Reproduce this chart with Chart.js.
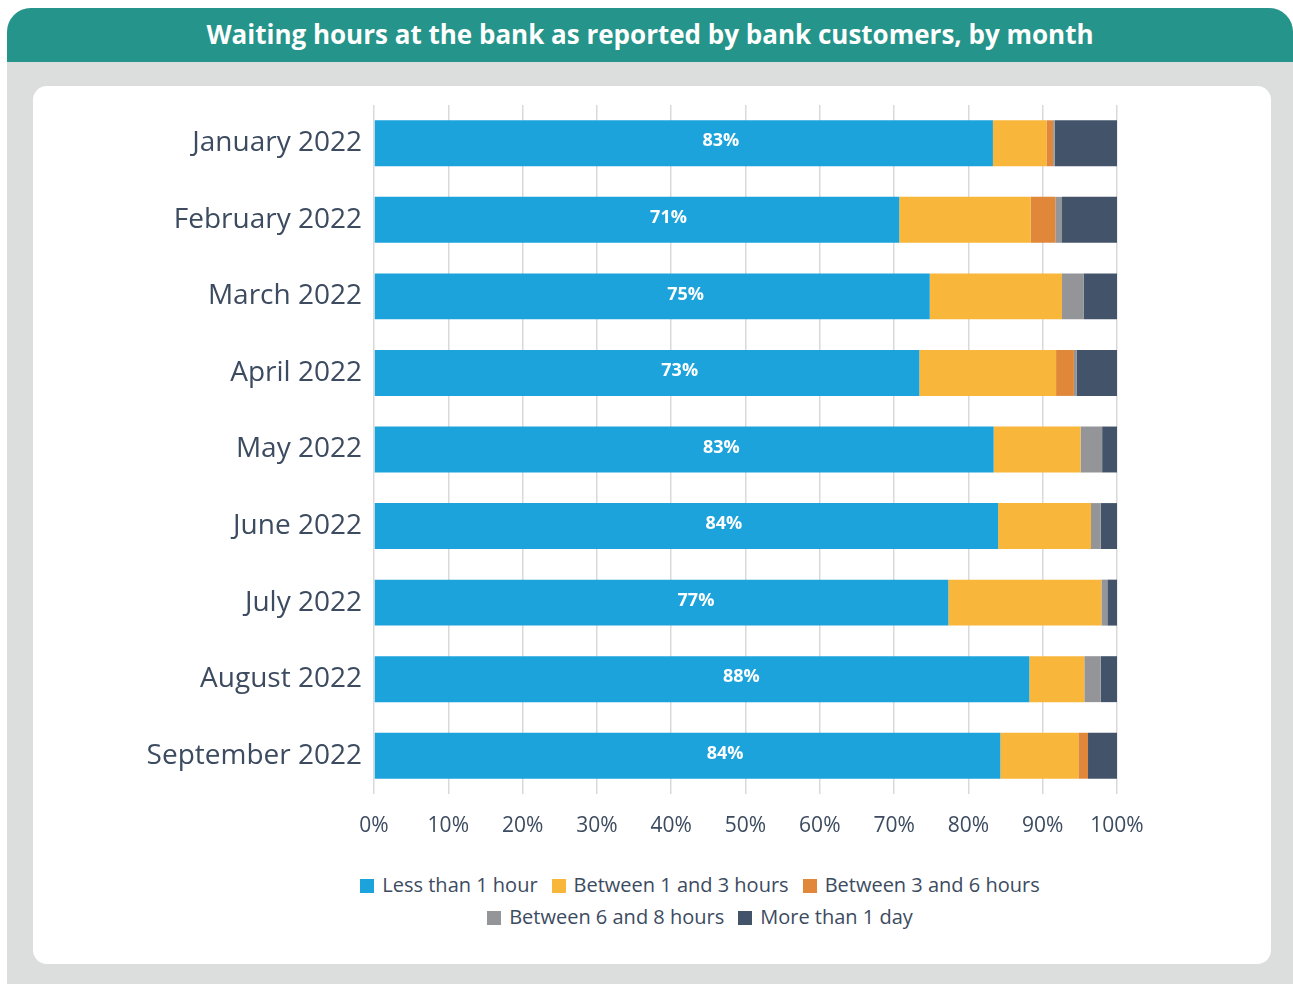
<!DOCTYPE html>
<html>
<head>
<meta charset="utf-8">
<script src="https://cdn.jsdelivr.net/npm/chart.js@4"></script>
<style>
  body { margin: 0; background: #fff; font-family: "Open Sans", sans-serif; }
  .frame { position: absolute; left: 7px; top: 8px; width: 1286px; height: 976px; background: #dcdedd; border-radius: 24px 24px 0 0; overflow: hidden; }
  .head { height: 54px; background: #25948a; color: #fff; font-weight: 700; font-size: 26px; text-align: center; line-height: 52px; }
  .card { position: absolute; left: 26px; top: 78px; width: 1238px; height: 878px; background: #fff; border-radius: 14px; }
  .plot { position: absolute; left: 0; top: 0; width: 1238px; height: 770px; }
  .legend { position: absolute; left: 0; top: 783px; width: 1334px; text-align: center; font-size: 20px; color: #3c4b5f; }
  .legend .row { height: 32px; line-height: 32px; white-space: nowrap; }
  .legend span { display: inline-block; margin: 0 7px; }
  .legend i { display: inline-block; width: 14px; height: 14px; margin-right: 8px; vertical-align: -1px; }
</style>
</head>
<body>
<div class="frame">
  <div class="head">Waiting hours at the bank as reported by bank customers, by month</div>
  <div class="card">
    <div class="plot"><canvas id="waitChart" width="1238" height="770"></canvas></div>
    <div class="legend" id="legend"></div>
  </div>
</div>
<script>
// share of customers per waiting time band, in %
const months = ['January 2022', 'February 2022', 'March 2022', 'April 2022', 'May 2022',
                'June 2022', 'July 2022', 'August 2022', 'September 2022'];
const lessThan1h  = [83.3, 70.7, 74.8, 73.4, 83.4, 84.0, 77.3, 88.2, 84.3];
const from1to3h   = [7.2, 17.7, 17.8, 18.4, 11.7, 12.5, 20.6, 7.4, 10.5];
const from3to6h   = [0.9, 3.3, 0, 2.4, 0, 0, 0, 0, 1.3];
const from6to8h   = [0.2, 0.9, 2.9, 0.4, 2.9, 1.3, 0.8, 2.2, 0];
const moreThan1d  = [8.4, 7.4, 4.5, 5.4, 2.0, 2.2, 1.3, 2.2, 3.9];
const xTicks = [0, 10, 20, 30, 40, 50, 60, 70, 80, 90, 100];

const textColor = '#3c4b5f';

// white percentage inside the first (blue) segment
const barLabels = {
  id: 'barLabels',
  afterDatasetsDraw(chart) {
    const ctx = chart.ctx;
    const meta = chart.getDatasetMeta(0);
    ctx.save();
    ctx.fillStyle = '#fff';
    ctx.font = 'bold 18px "Open Sans"';
    ctx.textAlign = 'center';
    ctx.textBaseline = 'middle';
    meta.data.forEach((bar, i) => {
      const x = bar.base + (bar.x - bar.base) * 0.56;
      ctx.fillText(Math.round(lessThan1h[i]) + '%', x, bar.y - 2);
    });
    ctx.restore();
  }
};

const series = [
  { label: 'Less than 1 hour', data: lessThan1h, color: '#1ca3dc' },
  { label: 'Between 1 and 3 hours', data: from1to3h, color: '#f8b63a' },
  { label: 'Between 3 and 6 hours', data: from3to6h, color: '#e0873a' },
  { label: 'Between 6 and 8 hours', data: from6to8h, color: '#939598' },
  { label: 'More than 1 day', data: moreThan1d, color: '#43546a' }
];

const chart = new Chart(document.getElementById('waitChart'), {
  type: 'bar',
  data: {
    labels: months,
    datasets: series.map(s => ({
      label: s.label,
      data: s.data,
      backgroundColor: s.color,
      borderWidth: 0,
      categoryPercentage: 1,
      barPercentage: 0.6
    }))
  },
  options: {
    indexAxis: 'y',
    responsive: false,
    animation: false,
    layout: { padding: { top: 19, right: 154, left: 0, bottom: 0 } },
    plugins: { legend: { display: false }, tooltip: { enabled: false } },
    scales: {
      x: {
        stacked: true,
        min: 0,
        max: 100,
        afterBuildTicks: axis => { axis.ticks = xTicks.map(v => ({ value: v })); },
        afterFit: axis => { axis.height = 62; },
        grid: { color: '#d9d9d9', lineWidth: 1.5, drawTicks: false },
        border: { display: false },
        ticks: {
          color: textColor,
          font: { family: 'Open Sans', size: 21 },
          padding: 19,
          callback: v => v + '%'
        }
      },
      y: {
        stacked: true,
        afterFit: axis => {
          axis.width = 341;
          axis.paddingTop = 0;
          axis.paddingBottom = 0;
        },
        grid: { display: false, drawTicks: false },
        border: { display: false },
        ticks: {
          color: textColor,
          font: { family: 'Open Sans', size: 28 },
          padding: 12
        }
      }
    }
  },
  plugins: [barLabels]
});

// legend below the chart, two rows
const rows = [series.slice(0, 3), series.slice(3)];
document.getElementById('legend').innerHTML = rows.map(r =>
  '<div class="row">' + r.map(s =>
    '<span><i style="background:' + s.color + '"></i>' + s.label + '</span>').join('') + '</div>'
).join('');
</script>
</body>
</html>
